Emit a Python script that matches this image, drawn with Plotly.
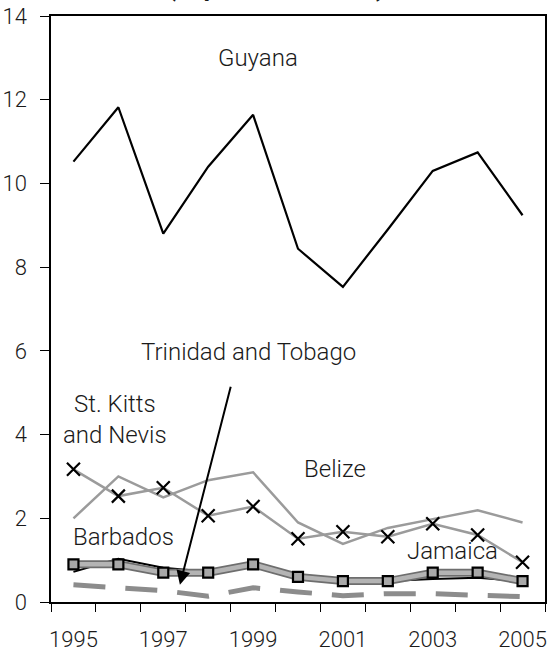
import plotly.graph_objects as go

# Annual values, 1995-2005
years = list(range(1995, 2006))
guyana = [10.52, 11.82, 8.80, 10.40, 11.64, 8.44, 7.53, 8.90, 10.30, 10.74, 9.24]
st_kitts_nevis = [3.17, 2.53, 2.73, 2.06, 2.28, 1.51, 1.68, 1.56, 1.87, 1.60, 0.95]
belize = [2.00, 3.00, 2.50, 2.91, 3.10, 1.90, 1.39, 1.77, 1.98, 2.19, 1.90]
barbados = [0.72, 1.03, 0.82, 0.72, 0.85, 0.60, 0.50, 0.50, 0.55, 0.58, 0.50]
jamaica = [0.90, 0.90, 0.70, 0.70, 0.90, 0.60, 0.50, 0.50, 0.70, 0.70, 0.50]
trinidad_tobago = [0.41, 0.35, 0.27, 0.14, 0.34, 0.24, 0.15, 0.20, 0.20, 0.16, 0.13]

x_tick_years = [1995, 1997, 1999, 2001, 2003, 2005]
y_ticks = [0, 2, 4, 6, 8, 10, 12, 14]

FONT = "Roboto, Liberation Sans, sans-serif"
INK = "#1a1a1a"
GREY = "#9b9b9b"

fig = go.Figure()

# Trinidad and Tobago: thick grey dashes
fig.add_trace(go.Scatter(
    x=years, y=trinidad_tobago, name="Trinidad and Tobago", mode="lines",
    line=dict(color="#8c8c8c", width=5, dash="32px,20px"),
))

# Belize: plain grey line
fig.add_trace(go.Scatter(
    x=years, y=belize, name="Belize", mode="lines",
    line=dict(color=GREY, width=2.5),
))

# St. Kitts and Nevis: grey line with black crosses
fig.add_trace(go.Scatter(
    x=years, y=st_kitts_nevis, name="St. Kitts and Nevis", mode="lines+markers",
    line=dict(color=GREY, width=2.5),
    marker=dict(symbol="x-thin", size=13, line=dict(color="black", width=2.2)),
))

# Barbados: thin black line
fig.add_trace(go.Scatter(
    x=years, y=barbados, name="Barbados", mode="lines",
    line=dict(color="black", width=2),
))

# Jamaica: broad shaded band with square markers
fig.add_trace(go.Scatter(
    x=years, y=jamaica, name="Jamaica", mode="lines",
    line=dict(color="#6e6e6e", width=8), showlegend=False, hoverinfo="skip",
))
fig.add_trace(go.Scatter(
    x=years, y=jamaica, name="Jamaica", mode="lines+markers",
    line=dict(color="#b4b4b4", width=4.5),
    marker=dict(symbol="square", size=10, color="#a8a8a8",
                line=dict(color="black", width=2.2)),
))

# Guyana: black line
fig.add_trace(go.Scatter(
    x=years, y=guyana, name="Guyana", mode="lines",
    line=dict(color="black", width=2.2),
))

labels = [
    ("Guyana", 1999.1, 13.0),
    ("Trinidad and Tobago", 1998.9, 5.97),
    ("St. Kitts<br>and Nevis", 1995.92, 4.35),
    ("Belize", 2000.83, 3.18),
    ("Barbados", 1996.12, 1.56),
    ("Jamaica", 2003.44, 1.21),
]
annotations = [
    dict(text=t, x=x, y=y, xref="x", yref="y", showarrow=False,
         xanchor="center", yanchor="middle",
         font=dict(family=FONT, size=24, color=INK, weight=300))
    for t, x, y in labels
]
# Pointer from the Trinidad and Tobago label to its series
annotations.append(dict(
    text="", x=1997.37, y=0.41, ax=1998.51, ay=5.18,
    xref="x", yref="y", axref="x", ayref="y",
    showarrow=True, arrowhead=2, arrowsize=1.4, arrowwidth=2, arrowcolor="black",
))
# Heading above the plot
annotations.append(dict(
    text="<b><i>(In percent of GDP)</i></b>", x=0.46, y=1.021,
    xref="paper", yref="paper", showarrow=False,
    xanchor="center", yanchor="bottom",
    font=dict(family=FONT, size=26, color=INK),
))

fig.update_layout(
    width=548, height=652,
    margin=dict(l=51, r=3, t=16, b=50),
    paper_bgcolor="white", plot_bgcolor="white",
    showlegend=False,
    font=dict(family=FONT, size=22, color=INK),
    annotations=annotations,
)

fig.update_xaxes(
    range=[1994.5, 2005.5], tickmode="array", tickvals=x_tick_years,
    ticks="", showgrid=False, zeroline=False, automargin=False,
    showline=True, linecolor="black", linewidth=1.5, mirror=True,
    ticklabelstandoff=17, ticklabeloverflow="allow",
    minor=dict(ticks="outside", tick0=1994.5, dtick=1, ticklen=8,
               tickcolor="black", tickwidth=1.2, showgrid=False),
    tickfont=dict(family=FONT, size=22, color=INK, weight=300),
)
fig.update_yaxes(
    range=[0, 14], tickmode="array", tickvals=y_ticks,
    ticks="outside", ticklen=9, tickcolor="black", tickwidth=1.2,
    showgrid=False, zeroline=False, automargin=False,
    showline=True, linecolor="black", linewidth=1.5, mirror=True,
    ticklabelstandoff=9, ticklabeloverflow="allow",
    tickfont=dict(family=FONT, size=22, color=INK, weight=300),
)

fig.write_html("out.html")
